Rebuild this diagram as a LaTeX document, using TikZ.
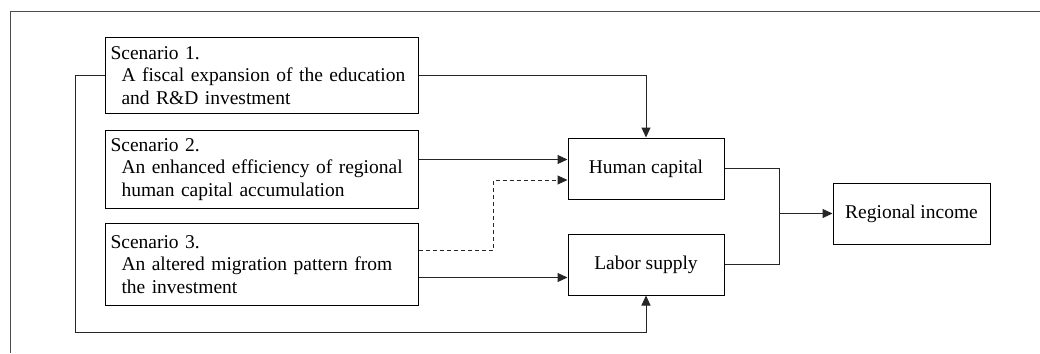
\documentclass[tikz,border=0pt]{standalone}
\usepackage{fontspec}
\setmainfont{Liberation Serif}
\usetikzlibrary{arrows.meta}
\begin{document}
\begin{tikzpicture}[x=1pt,y=-1pt,
  line width=1pt,
  txt/.style={font=\fontsize{19.5}{22.5}\selectfont},
  sbox/.style={draw, txt, anchor=north west, align=left, text width=303pt,
    inner xsep=5pt, inner ysep=0pt},
  vbox/.style={draw, txt, minimum width=156pt, minimum height=61pt, inner sep=0pt},
  arr/.style={-{Triangle[length=10pt,width=9pt]}},
  conn/.style={draw=black!85}
]
\useasboundingbox (0,0) rectangle (1040,353);
\coordinate (ftop) at (1040,12);
\coordinate (fcorner) at (10,12);
\coordinate (fbot) at (10,353);
\draw[black!70] (ftop) -- (fcorner) -- (fbot);

\node[sbox, minimum height=76pt] (s1) at (105,37)
  {Scenario 1.\\\hspace*{11pt}A fiscal expansion of the education\\\hspace*{11pt}and R\&D investment};
\node[sbox, minimum height=78pt] (s2) at (105,130)
  {Scenario 2.\\\hspace*{11pt}An enhanced efficiency of regional\\\hspace*{11pt}human capital accumulation};
\node[sbox, minimum height=82pt] (s3) at (105,223)
  {Scenario 3.\\\hspace*{11pt}An altered migration pattern from\\\hspace*{11pt}the investment};

\node[vbox] (hc) at (646,168.5) {Human capital};
\node[vbox] (ls) at (646,264.5) {Labor supply};
\node[vbox, minimum width=157pt] (ri) at (911.5,213.5) {Regional income};

\coordinate (fb1) at (75,75);
\coordinate (fb2) at (75,332);
\coordinate (d1) at (493,250);
\coordinate (j) at (779,213.5);

% scenario 1
\draw[conn, arr] (s1.east) -| (hc.north);
\draw[conn, arr] (s1.west) -- (s1.west -| fb1) -- (fb2) -| (ls.south);
% scenario 2
\draw[conn, arr] ([yshift=10pt]s2.east) -- ([yshift=10pt]s2.east -| hc.west);
% scenario 3
\draw[conn, arr, dashed, dash pattern=on 4pt off 3pt] ([yshift=14pt]s3.east) -- ([yshift=14pt]s3.east -| d1)
  -- ([yshift=-11.5pt]hc.west -| d1) -- ([yshift=-11.5pt]hc.west);
\draw[conn, arr] ([yshift=-13pt]s3.east) -- ([yshift=-13pt]s3.east -| ls.west);
% merge
\draw[conn] (hc.east) -| (j) |- (ls.east);
\draw[conn, arr] (j) -- (ri.west);
\end{tikzpicture}
\end{document}
